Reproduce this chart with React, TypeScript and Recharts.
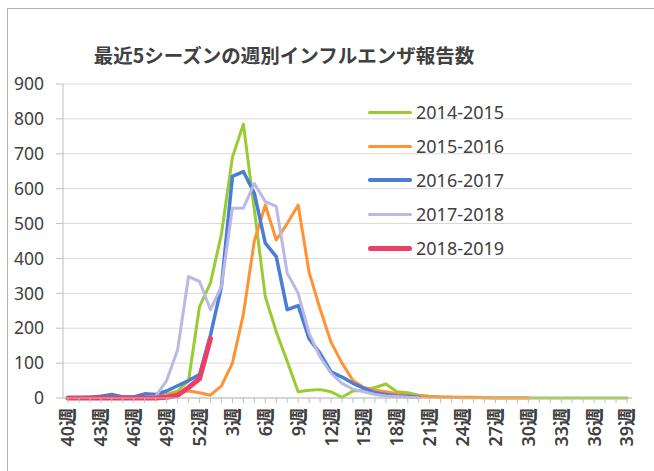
import React from 'react';
import { LineChart, Line, XAxis, YAxis, CartesianGrid } from 'recharts';

const weeks = [
  '40週', '41週', '42週', '43週', '44週', '45週', '46週', '47週', '48週', '49週', '50週', '51週', '52週',
  '1週', '2週', '3週', '4週', '5週', '6週', '7週', '8週', '9週', '10週', '11週', '12週', '13週',
  '14週', '15週', '16週', '17週', '18週', '19週', '20週', '21週', '22週', '23週', '24週', '25週', '26週',
  '27週', '28週', '29週', '30週', '31週', '32週', '33週', '34週', '35週', '36週', '37週', '38週', '39週',
];

const s2014 = [
  0, 0, 0, 2, 2, 2, 3, 3, 5, 10, 20, 50, 262,
  330, 470, 690, 785, 540, 290, 190, 105, 18, 22, 24, 18, 2,
  20, 22, 30, 40, 18, 15, 8, 5, 3, 2, 1, 1, 1,
  0, 0, 0, 0, 0, 0, 0, 0, 0, 0, 0, 0, 0,
];

const s2015 = [
  0, 0, 0, 0, 0, 2, 2, 3, 5, 8, 15, 20, 15,
  8, 35, 100, 240, 450, 553, 453, 500, 553, 360, 255, 160, 100,
  50, 30, 22, 18, 12, 8, 5, 3, 3, 2, 2, 2, 1,
  1, 1, 1, 1, null, null, null, null, null, null, null, null, null,
];

const s2016 = [
  0, 0, 2, 5, 10, 3, 3, 12, 10, 20, 35, 50, 67,
  180, 320, 635, 649, 587, 444, 405, 253, 265, 170, 128, 75, 60,
  42, 28, 15, 10, 6, 4, 2, null, null, null, null, null, null,
  null, null, null, null, null, null, null, null, null, null, null, null, null,
];

const s2017 = [
  0, 0, 0, 0, 0, 0, 0, 2, 5, 50, 138, 348, 334,
  253, 320, 544, 544, 615, 563, 549, 358, 300, 185, 118, 71, 42,
  25, 18, 10, 6, 4, 2, 1, null, null, null, null, null, null,
  null, null, null, null, null, null, null, null, null, null, null, null, null,
];

const s2018 = [
  0, 0, 0, 0, 0, 0, 0, 0, 0, 2, 8, 30, 55,
  170, null, null, null, null, null, null, null, null, null, null, null, null,
  null, null, null, null, null, null, null, null, null, null, null, null, null,
  null, null, null, null, null, null, null, null, null, null, null, null, null,
];

const yTicks = [0, 100, 200, 300, 400, 500, 600, 700, 800, 900];

const seasons = [
  { key: 'a', name: '2014-2015', color: '#99cc33', width: 3, values: s2014 },
  { key: 'b', name: '2015-2016', color: '#ff9233', width: 3, values: s2015 },
  { key: 'c', name: '2016-2017', color: '#4a7dd6', width: 3.5, values: s2016 },
  { key: 'd', name: '2017-2018', color: '#b9b9e6', width: 3, values: s2017 },
  { key: 'e', name: '2018-2019', color: '#ea4068', width: 5, values: s2018 },
];

const data = weeks.map((week, i) => {
  const row: Record<string, string | number | null> = { week };
  seasons.forEach(s => { row[s.key] = s.values[i]; });
  return row;
});

const font = "'Noto Sans', 'Noto Sans CJK JP', sans-serif";

const WeekTick = ({ x, y, payload, index }: any) => {
  if (index % 3 !== 0) return null;
  return (
    <text
      transform={`translate(${x},${y}) rotate(-90)`}
      textAnchor="end"
      dy="0.36em"
      fontSize={18}
      fontWeight={600}
      fill="#404040"
      fontFamily={font}
    >
      {payload.value}
    </text>
  );
};

const App: React.FC = () => {
  return (
    <div style={{ position: 'absolute', left: 0, top: 0, width: 654, height: 471, background: '#fff', overflow: 'hidden', fontFamily: font }}>
      <div style={{ position: 'absolute', left: 7, top: 8, width: 700, height: 500, borderLeft: '1px solid #b5b5b5', borderTop: '1px solid #b5b5b5' }} />
      <div style={{ position: 'absolute', left: 0, top: 43, width: 568, textAlign: 'center', fontSize: 19.5, lineHeight: '24px', fontWeight: 700, color: '#404040', fontFamily: "'Noto Sans CJK JP', sans-serif" }}>
        最近5シーズンの週別インフルエンザ報告数
      </div>
      <LineChart width={654} height={471} data={data} margin={{ top: 84, right: 22, bottom: 13, left: 0 }}>
        <CartesianGrid vertical={false} stroke="#d9d9d9" />
        <XAxis
          dataKey="week"
          interval={0}
          tick={<WeekTick />}
          tickSize={5}
          tickMargin={5}
          height={60}
          padding={{ left: 5, right: 5 }}
          axisLine={{ stroke: '#bfbfbf' }}
          tickLine={{ stroke: '#bfbfbf' }}
        />
        <YAxis
          width={63}
          domain={[0, 900]}
          ticks={yTicks}
          interval={0}
          tickSize={7}
          tickMargin={12}
          axisLine={{ stroke: '#bfbfbf' }}
          tickLine={{ stroke: '#bfbfbf' }}
          tick={{ fill: '#404040', fontSize: 17.5, fontFamily: font }}
        />
        {seasons.map(s => (
          <Line
            key={s.key}
            type="linear"
            dataKey={s.key}
            name={s.name}
            stroke={s.color}
            strokeWidth={s.width}
            strokeLinejoin="round"
            strokeLinecap="round"
            dot={false}
            activeDot={false}
            isAnimationActive={false}
          />
        ))}
      </LineChart>
      {seasons.map((s, i) => (
        <div key={s.key} style={{ position: 'absolute', left: 368, top: 112 + i * 34 - 12, height: 24, display: 'flex', alignItems: 'center' }}>
          <div style={{ width: 44, height: s.width, background: s.color, borderRadius: s.width / 2 }} />
          <span style={{ marginLeft: 4, fontSize: 18, color: '#404040', lineHeight: '24px' }}>{s.name}</span>
        </div>
      ))}
    </div>
  );
};

export default App;
